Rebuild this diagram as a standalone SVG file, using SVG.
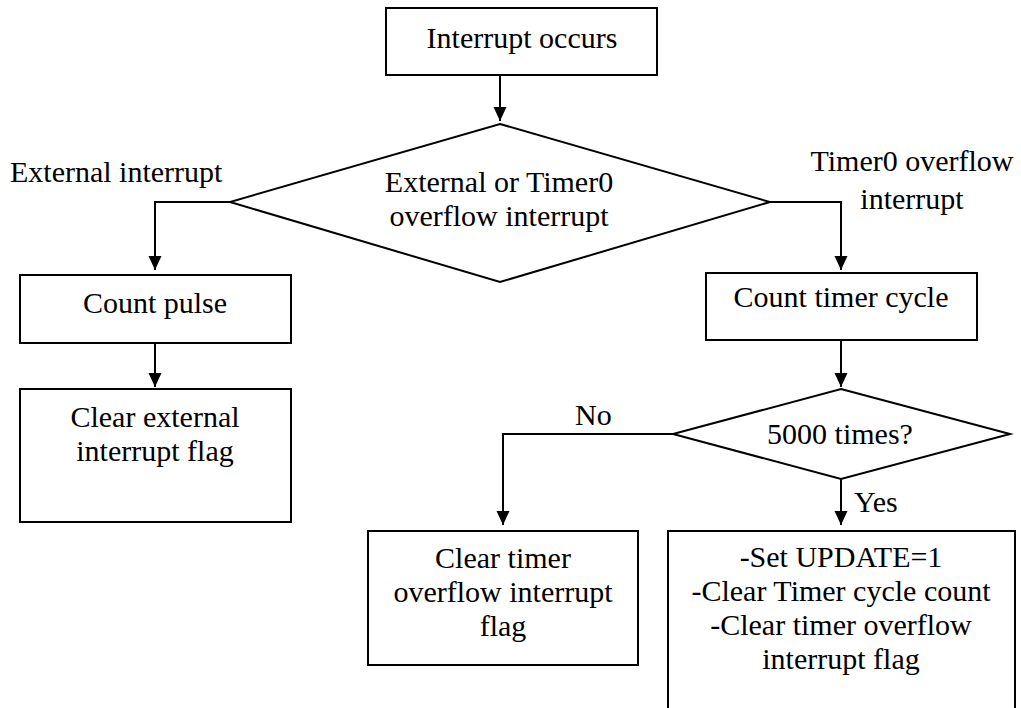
<svg xmlns="http://www.w3.org/2000/svg" width="1021" height="708" viewBox="0 0 1021 708">
  <style>
    .box { fill: #fff; stroke: #000; stroke-width: 2; }
    .wire { fill: none; stroke: #000; stroke-width: 2; marker-end: url(#arrow); }
    .lbl { font-family: "Liberation Serif", "Times New Roman", serif; font-size: 30px; fill: #000; }
    .c { text-anchor: middle; }
  </style>
  <defs>
    <marker id="arrow" markerUnits="userSpaceOnUse" markerWidth="14" markerHeight="14" refX="14" refY="6.5" orient="auto">
      <path d="M0,0 L14,6.5 L0,13 z" fill="#000"/>
    </marker>
  </defs>
  <rect width="1021" height="708" fill="#fff"/>

  <g id="connectors">
    <path class="wire" d="M500,75 V121"/>
    <path class="wire" d="M230,202 H155 V270"/>
    <path class="wire" d="M155,343 V387"/>
    <path class="wire" d="M770,202 H841 V270"/>
    <path class="wire" d="M841,340 V387"/>
    <path class="wire" d="M673,434 H503 V525"/>
    <path class="wire" d="M841,479 V525"/>
    <text class="lbl" x="10" y="182">External interrupt</text>
    <text class="lbl c" x="912" y="171">Timer0 overflow</text>
    <text class="lbl c" x="912" y="209">interrupt</text>
    <text class="lbl" x="575" y="425">No</text>
    <text class="lbl" x="854" y="512">Yes</text>
  </g>

  <g id="start">
    <rect class="box" x="386" y="8" width="271" height="67"/>
    <text class="lbl c" x="522" y="48">Interrupt occurs</text>
  </g>

  <g id="source-decision">
    <polygon class="box" points="500,124 770,202 500,282 230,202"/>
    <text class="lbl c" x="499" y="192">External or Timer0</text>
    <text class="lbl c" x="499" y="226">overflow interrupt</text>
  </g>

  <g id="count-pulse">
    <rect class="box" x="20" y="275" width="271" height="68"/>
    <text class="lbl c" x="155" y="313">Count pulse</text>
  </g>

  <g id="clear-external">
    <rect class="box" x="20" y="389" width="271" height="133"/>
    <text class="lbl c" x="155" y="427">Clear external</text>
    <text class="lbl c" x="155" y="461">interrupt flag</text>
  </g>

  <g id="count-timer">
    <rect class="box" x="706" y="273" width="271" height="67"/>
    <text class="lbl c" x="841" y="307">Count timer cycle</text>
  </g>

  <g id="count-decision">
    <polygon class="box" points="841,389 1010,434 841,479 673,434"/>
    <text class="lbl c" x="840" y="444">5000 times?</text>
  </g>

  <g id="clear-timer">
    <rect class="box" x="368" y="531" width="270" height="134"/>
    <text class="lbl c" x="503" y="568">Clear timer</text>
    <text class="lbl c" x="503" y="602">overflow interrupt</text>
    <text class="lbl c" x="503" y="636">flag</text>
  </g>

  <g id="update">
    <rect class="box" x="668" y="531" width="347" height="185"/>
    <text class="lbl c" x="841" y="567">-Set UPDATE=1</text>
    <text class="lbl c" x="841" y="601">-Clear Timer cycle count</text>
    <text class="lbl c" x="841" y="635">-Clear timer overflow</text>
    <text class="lbl c" x="841" y="669">interrupt flag</text>
  </g>
</svg>
